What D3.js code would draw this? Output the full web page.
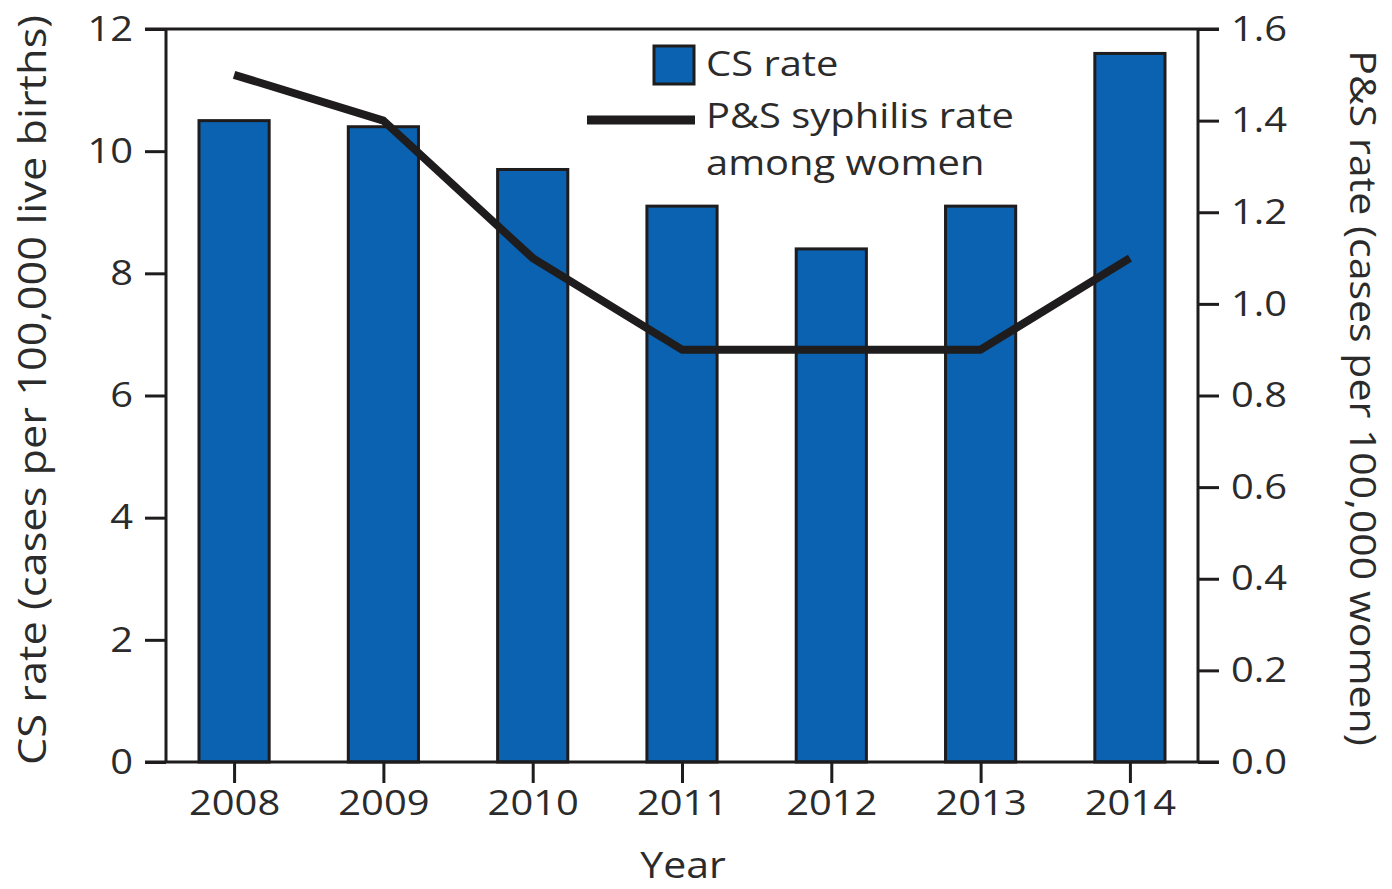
<!DOCTYPE html>
<html>
<head>
<meta charset="utf-8">
<script src="https://cdn.jsdelivr.net/npm/d3@7"></script>
<style>
  body { margin: 0; background: #fff; }
  text { font-family: "Open Sans", "Noto Sans", sans-serif; fill: #2b2b2b; }
</style>
</head>
<body>
<svg id="chart" width="1392" height="889"></svg>
<script>
// data
var years = ["2008", "2009", "2010", "2011", "2012", "2013", "2014"];
var csRate = [10.5, 10.4, 9.7, 9.1, 8.4, 9.1, 11.6];
var psRate = [1.5, 1.4, 1.1, 0.9, 0.9, 0.9, 1.1];
var leftTicks = [0, 2, 4, 6, 8, 10, 12];
var rightTicks = [0, 0.2, 0.4, 0.6, 0.8, 1.0, 1.2, 1.4, 1.6];

var svg = d3.select("#chart"),
    margin = {top: 29, right: 194, bottom: 127, left: 166},
    width = 1392 - margin.left - margin.right,
    height = 889 - margin.top - margin.bottom,
    g = svg.append("g").attr("transform", "translate(" + margin.left + "," + margin.top + ")");

var colorBar = "#0a62b0",
    colorInk = "#1f1c1d",
    tickLen = 21,
    textStretch = 1.14;   // the original type is wider than Open Sans

var x = d3.scalePoint().domain(years).range([0, width]).padding(0.456),
    yLeft = d3.scaleLinear().domain([0, 12]).range([height, 0]),
    yRight = d3.scaleLinear().domain([0, 1.6]).range([height, 0]);

var barWidth = x.step() * 0.47;

var rows = years.map(function(d, i) { return {year: d, cs: csRate[i], ps: psRate[i]}; });

// bars
g.selectAll(".bar")
  .data(rows)
  .enter().append("rect")
  .attr("class", "bar")
  .attr("x", function(d) { return x(d.year) - barWidth / 2; })
  .attr("y", function(d) { return yLeft(d.cs); })
  .attr("width", barWidth)
  .attr("height", function(d) { return height - yLeft(d.cs); })
  .attr("fill", colorBar)
  .attr("stroke", colorInk)
  .attr("stroke-width", 3);

// P&S line
var line = d3.line()
  .x(function(d) { return x(d.year); })
  .y(function(d) { return yRight(d.ps); });

g.append("path")
  .datum(rows)
  .attr("d", line)
  .attr("fill", "none")
  .attr("stroke", colorInk)
  .attr("stroke-width", 8)
  .attr("stroke-linejoin", "round");

// axes
function styleAxis(sel) {
  sel.select(".domain").remove();
  sel.selectAll(".tick line").attr("stroke", colorInk).attr("stroke-width", 3);
  sel.selectAll(".tick text").style("font-size", "35px").attr("fill", "#2b2b2b");
}

g.append("g")
  .attr("class", "y-axis")
  .call(d3.axisLeft(yLeft).tickValues(leftTicks).tickSize(tickLen).tickPadding(12))
  .call(styleAxis);

g.append("g")
  .attr("class", "y2-axis")
  .attr("transform", "translate(" + width + ",0)")
  .call(d3.axisRight(yRight).tickValues(rightTicks).tickSize(tickLen).tickPadding(12).tickFormat(d3.format(".1f")))
  .call(styleAxis);

g.append("g")
  .attr("class", "x-axis")
  .attr("transform", "translate(0," + height + ")")
  .call(d3.axisBottom(x).tickSize(tickLen).tickPadding(7))
  .call(styleAxis);

// frame
var frame = g.append("g").attr("stroke", colorInk).attr("stroke-width", 3);
frame.append("line").attr("x1", -tickLen).attr("x2", width + tickLen).attr("y1", 0).attr("y2", 0);
frame.append("line").attr("x1", -tickLen).attr("x2", width + tickLen).attr("y1", height).attr("y2", height);
frame.append("line").attr("x1", 0).attr("x2", 0).attr("y1", 0).attr("y2", height);
frame.append("line").attr("x1", width).attr("x2", width).attr("y1", 0).attr("y2", height);

// axis titles
svg.append("text")
  .attr("transform", "translate(46,390) rotate(-90)")
  .attr("text-anchor", "middle")
  .style("font-size", "38px")
  .text("CS rate (cases per 100,000 live births)");

svg.append("text")
  .attr("transform", "translate(1350,398) rotate(90)")
  .attr("text-anchor", "middle")
  .style("font-size", "36px")
  .text("P&S rate (cases per 100,000 women)");

svg.append("text")
  .attr("x", 683)
  .attr("y", 878)
  .attr("text-anchor", "middle")
  .style("font-size", "36px")
  .text("Year");

// legend
var legend = svg.append("g").attr("class", "legend");
legend.append("rect")
  .attr("x", 654).attr("y", 46).attr("width", 40).attr("height", 38)
  .attr("fill", colorBar).attr("stroke", colorInk).attr("stroke-width", 3);
legend.append("text").attr("x", 706).attr("y", 76).style("font-size", "35px").text("CS rate");
legend.append("line")
  .attr("x1", 587).attr("x2", 695).attr("y1", 120).attr("y2", 120)
  .attr("stroke", colorInk).attr("stroke-width", 9);
legend.append("text").attr("x", 706).attr("y", 128).style("font-size", "35px").text("P&S syphilis rate");
legend.append("text").attr("x", 706).attr("y", 175).style("font-size", "35px").text("among women");

// widen every label a little to match the original lettering
svg.selectAll("text").each(function() {
  var w = this.getComputedTextLength();
  d3.select(this).attr("textLength", w * textStretch).attr("lengthAdjust", "spacingAndGlyphs");
});
</script>
</body>
</html>
